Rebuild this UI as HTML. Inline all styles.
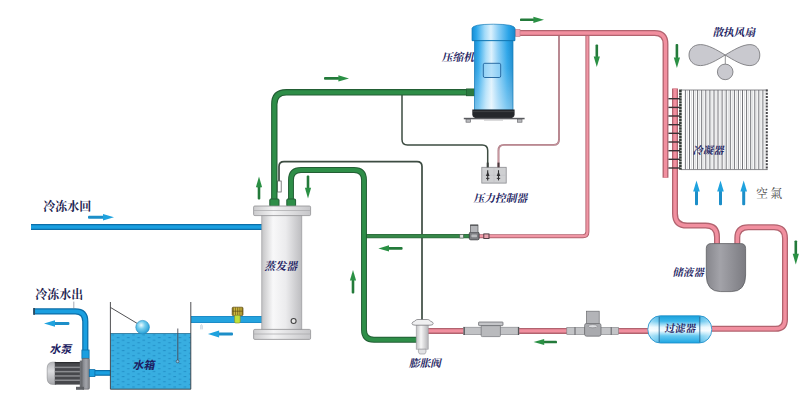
<!DOCTYPE html>
<html><head><meta charset="utf-8"><title>Chiller refrigeration diagram</title>
<style>html,body{margin:0;padding:0;overflow:hidden;background:#fff;font-family:"Liberation Sans",sans-serif}svg{display:block}</style>
</head><body>
<svg width="809" height="407" viewBox="0 0 809 407">
<defs>
<linearGradient id="gComp" x1="0" x2="1" y1="0" y2="0">
 <stop offset="0" stop-color="#178cd2"/><stop offset="0.1" stop-color="#2aa6ea"/>
 <stop offset="0.3" stop-color="#a4dbf9"/><stop offset="0.44" stop-color="#dcf1fd"/>
 <stop offset="0.6" stop-color="#8fd0f6"/><stop offset="0.85" stop-color="#2aa4e8"/><stop offset="1" stop-color="#1788cc"/>
</linearGradient>
<linearGradient id="gCompV" x1="0" x2="0" y1="0" y2="1">
 <stop offset="0" stop-color="#fff" stop-opacity="0"/><stop offset="0.4" stop-color="#fff" stop-opacity="0.08"/><stop offset="1" stop-color="#fff" stop-opacity="0.4"/>
</linearGradient>
<linearGradient id="gEvap" x1="0" x2="1" y1="0" y2="0">
 <stop offset="0" stop-color="#c4c4c6"/><stop offset="0.28" stop-color="#f8f8f9"/>
 <stop offset="0.6" stop-color="#ebebed"/><stop offset="1" stop-color="#bcbcbf"/>
</linearGradient>
<linearGradient id="gFlange" x1="0" x2="1" y1="0" y2="0">
 <stop offset="0" stop-color="#cbcbcd"/><stop offset="0.35" stop-color="#f3f3f4"/>
 <stop offset="1" stop-color="#c6c6c9"/>
</linearGradient>
<linearGradient id="gRecv" x1="0" x2="1" y1="0" y2="0">
 <stop offset="0" stop-color="#86868c"/><stop offset="0.35" stop-color="#a3a3a9"/>
 <stop offset="1" stop-color="#7b7b81"/>
</linearGradient>
<linearGradient id="gFilt" x1="0" x2="0" y1="0" y2="1">
 <stop offset="0" stop-color="#1aa2dc"/><stop offset="0.2" stop-color="#3ab6ea"/><stop offset="0.42" stop-color="#e2f6fe"/>
 <stop offset="0.55" stop-color="#f2fbff"/><stop offset="0.74" stop-color="#62c8f1"/><stop offset="1" stop-color="#1ea6e2"/>
</linearGradient>
<linearGradient id="gFiltH" x1="0" x2="1" y1="0" y2="0">
 <stop offset="0" stop-color="#fff" stop-opacity="0.55"/><stop offset="0.17" stop-color="#fff" stop-opacity="0.25"/><stop offset="0.2" stop-color="#fff" stop-opacity="0"/>
 <stop offset="0.8" stop-color="#fff" stop-opacity="0"/><stop offset="0.83" stop-color="#fff" stop-opacity="0.25"/><stop offset="1" stop-color="#fff" stop-opacity="0.55"/>
</linearGradient>
<linearGradient id="gValve" x1="0" x2="1" y1="0" y2="0">
 <stop offset="0" stop-color="#bfbfc1"/><stop offset="0.4" stop-color="#f7f7f7"/>
 <stop offset="1" stop-color="#b5b5b8"/>
</linearGradient>
<radialGradient id="gBall" cx="0.4" cy="0.35" r="0.7">
 <stop offset="0" stop-color="#eefcff"/><stop offset="0.4" stop-color="#74cdee"/><stop offset="1" stop-color="#1c98d2"/>
</radialGradient>
<pattern id="pWater" x="110.4" y="333.6" width="10.3" height="5.2" patternUnits="userSpaceOnUse">
 <rect width="10.3" height="5.2" fill="#38aee1"/>
 <rect x="1.2" y="0.9" width="2.6" height="1" fill="#2390c8"/>
 <rect x="6.35" y="3.5" width="2.6" height="1" fill="#2390c8"/>
</pattern>
<pattern id="pFins" x="681.6" width="4.08" height="10" patternUnits="userSpaceOnUse">
 <rect width="4.08" height="10" fill="#fbfbfb"/>
 <rect x="0" width="1.0" height="10" fill="#77787b"/>
 <rect x="2.0" width="0.9" height="10" fill="#c4c5c7"/>
</pattern>
</defs>
<rect width="809" height="407" fill="#fff"/>
<path d="M402 95 V139.4 Q402 144.9 407.5 144.9 H482.2 Q487.7 144.9 487.7 150.4 V167" fill="none" stroke="#3d4c42" stroke-width="1.5" stroke-linejoin="round"/>
<path d="M422 320 V166.6 Q422 161.6 417 161.6 H284 Q279 161.6 279 166.6 V182" fill="none" stroke="#3d4c42" stroke-width="1.7" stroke-linejoin="round"/>
<rect x="277.6" y="181" width="3.6" height="11" fill="#fff" stroke="#666" stroke-width="0.8"/>
<path d="M559 36 V139.4 Q559 144.9 553.5 144.9 H504 Q498.5 144.9 498.5 150.4 V167" fill="none" stroke="#a6727c" stroke-width="1.9" stroke-linejoin="round"/>
<path d="M559 36 V139.4 Q559 144.9 553.5 144.9 H504 Q498.5 144.9 498.5 150.4 V167" fill="none" stroke="#e8bcc2" stroke-width="0.5" stroke-linejoin="round"/>
<path d="M364 236.1 H470" fill="none" stroke="#2f6a3c" stroke-width="4.2" stroke-linecap="butt" stroke-linejoin="round"/>
<path d="M364 236.1 H470" fill="none" stroke="#37884a" stroke-width="2.6" stroke-linecap="butt" stroke-linejoin="round"/>
<path d="M291 207 V180 Q291 170 301 170 H354 Q364 170 364 180 V329.7 Q364 339.7 374 339.7 H417" fill="none" stroke="#225e34" stroke-width="5.9" stroke-linecap="butt" stroke-linejoin="round"/>
<path d="M291 207 V180 Q291 170 301 170 H354 Q364 170 364 180 V329.7 Q364 339.7 374 339.7 H417" fill="none" stroke="#2e8e48" stroke-width="3.9000000000000004" stroke-linecap="butt" stroke-linejoin="round"/>
<path d="M274.3 207 V104.3 Q274.3 92.3 286.3 92.3 H476" fill="none" stroke="#225e34" stroke-width="6.4" stroke-linecap="butt" stroke-linejoin="round"/>
<path d="M274.3 207 V104.3 Q274.3 92.3 286.3 92.3 H476" fill="none" stroke="#2e8e48" stroke-width="4.2" stroke-linecap="butt" stroke-linejoin="round"/>
<rect x="269.8" y="199" width="9.2" height="7.5" rx="1" fill="#2e8e48" stroke="#225e34" stroke-width="1"/>
<rect x="286.8" y="199" width="8.8" height="7.5" rx="1" fill="#2e8e48" stroke="#225e34" stroke-width="1"/>
<rect x="466.4" y="88.9" width="8.4" height="6.9" fill="#2b7a40" stroke="#1f5c30" stroke-width="0.7"/>
<path d="M587.4 35 V231.8 Q587.4 236.2 583 236.2 H478" fill="none" stroke="#b2636f" stroke-width="4.0" stroke-linecap="butt" stroke-linejoin="round"/>
<path d="M587.4 35 V231.8 Q587.4 236.2 583 236.2 H478" fill="none" stroke="#f096a5" stroke-width="2.2" stroke-linecap="butt" stroke-linejoin="round"/>
<path d="M515 33.0 H654.6 Q665.5 33.0 665.5 44.0 V177.8" fill="none" stroke="#b2636f" stroke-width="5.9" stroke-linecap="butt" stroke-linejoin="round"/>
<path d="M515 33.0 H654.6 Q665.5 33.0 665.5 44.0 V177.8" fill="none" stroke="#f18f9f" stroke-width="3.3000000000000003" stroke-linecap="butt" stroke-linejoin="round"/>
<path d="M675 88.4 V213.4 Q675 225.6 687.2 225.6 H705.6 Q717 225.6 717 237 V245" fill="none" stroke="#b2636f" stroke-width="6.0" stroke-linecap="butt" stroke-linejoin="round"/>
<path d="M675 88.4 V213.4 Q675 225.6 687.2 225.6 H705.6 Q717 225.6 717 237 V245" fill="none" stroke="#f18f9f" stroke-width="3.4" stroke-linecap="butt" stroke-linejoin="round"/>
<path d="M737.3 245 V238 Q737.3 227.2 748.3 227.2 H774 Q785 227.2 785 238.2 V319.2 Q785 328.8 775.4 328.8 H710" fill="none" stroke="#b2636f" stroke-width="6.0" stroke-linecap="butt" stroke-linejoin="round"/>
<path d="M737.3 245 V238 Q737.3 227.2 748.3 227.2 H774 Q785 227.2 785 238.2 V319.2 Q785 328.8 775.4 328.8 H710" fill="none" stroke="#f18f9f" stroke-width="3.4" stroke-linecap="butt" stroke-linejoin="round"/>
<path d="M650 330.9 H428" fill="none" stroke="#b2636f" stroke-width="6.0" stroke-linecap="butt" stroke-linejoin="round"/>
<path d="M650 330.9 H428" fill="none" stroke="#f18f9f" stroke-width="3.4" stroke-linecap="butt" stroke-linejoin="round"/>
<rect x="515.2" y="29.4" width="4.8" height="7.0" fill="#f3a3b0" stroke="#c98590" stroke-width="0.7"/>
<path d="M31 227 H263" fill="none" stroke="#0c6ea8" stroke-width="6.2" stroke-linecap="butt" stroke-linejoin="round"/>
<path d="M31 227 H263" fill="none" stroke="#1a9fe0" stroke-width="3.6" stroke-linecap="butt" stroke-linejoin="round"/>
<path d="M263 319.4 H191" fill="none" stroke="#1c8cc8" stroke-width="7.0" stroke-linecap="butt" stroke-linejoin="round"/>
<path d="M263 319.4 H191" fill="none" stroke="#24a3de" stroke-width="5.0" stroke-linecap="butt" stroke-linejoin="round"/>
<path d="M111 372.9 H89" fill="none" stroke="#0c6ea8" stroke-width="5.8" stroke-linecap="butt" stroke-linejoin="round"/>
<path d="M111 372.9 H89" fill="none" stroke="#1a9fe0" stroke-width="3.4" stroke-linecap="butt" stroke-linejoin="round"/>
<path d="M85.3 358 V321.4 Q85.3 311.3 75.3 311.3 H33.5" fill="none" stroke="#0c6ea8" stroke-width="6.2" stroke-linecap="butt" stroke-linejoin="round"/>
<path d="M85.3 358 V321.4 Q85.3 311.3 75.3 311.3 H33.5" fill="none" stroke="#1a9fe0" stroke-width="3.8000000000000003" stroke-linecap="butt" stroke-linejoin="round"/>
<path d="M73.8 301.6 V308.4" stroke="#6a6f80" stroke-width="0.6"/>
<rect x="81.9" y="350" width="7.2" height="8.5" fill="#1a9fe0" stroke="#0c6ea8" stroke-width="0.8"/>
<rect x="33.2" y="308" width="1.8" height="6.8" fill="#2c4a60"/>
<g id="evaporator">
<rect x="261.8" y="214" width="40" height="117" fill="url(#gEvap)" stroke="#9a9a9d" stroke-width="0.7"/>
<rect x="253.6" y="206" width="57" height="9.6" rx="1.2" fill="url(#gFlange)" stroke="#909093" stroke-width="0.8"/>
<path d="M254 210.5 H310.3" stroke="#a8a8ab" stroke-width="0.7"/>
<rect x="253.6" y="329.4" width="57" height="10" rx="1.2" fill="url(#gFlange)" stroke="#909093" stroke-width="0.8"/>
<path d="M254 334 H310.3" stroke="#a8a8ab" stroke-width="0.7"/>
<circle cx="293.6" cy="321" r="2.5" fill="#e8e8e8" stroke="#444" stroke-width="1.1"/>
</g>
<g id="compressor">
<rect x="474.4" y="38" width="38.6" height="72" fill="url(#gComp)" stroke="#167bb8" stroke-width="0.7"/>
<rect x="474.8" y="41" width="37.8" height="68.6" fill="url(#gCompV)"/>
<path d="M472 40.6 V28.5 Q472 24.2 493.5 24.2 Q515 24.2 515 28.5 V40.6 Z" fill="url(#gComp)" stroke="#167bb8" stroke-width="0.7"/>
<path d="M472 40.6 H515" stroke="#1276b2" stroke-width="0.8"/>
<rect x="483.3" y="63.3" width="17.4" height="14.2" rx="1.5" fill="#8fd0f5" fill-opacity="0.55" stroke="#1c5f9a" stroke-width="0.9"/>
<path d="M472.3 109.4 H514.6 V114.5 Q514.6 118.6 508 118.6 H479 Q472.3 118.6 472.3 114.5 Z" fill="#25272b"/>
<path d="M473 111.6 H514" stroke="#4a4c50" stroke-width="0.7"/>
<rect x="463.8" y="117.8" width="60.8" height="1.5" fill="#5a5b5f"/>
<rect x="466" y="119.2" width="4.6" height="3" fill="#b9babd" stroke="#5e5f63" stroke-width="0.6"/>
<rect x="517.4" y="119.2" width="4.6" height="3" fill="#b9babd" stroke="#5e5f63" stroke-width="0.6"/>
<rect x="484" y="119.4" width="19" height="1.2" fill="#c4c4c6"/>
</g>
<g id="condenser">
<rect x="681" y="89.8" width="86.6" height="79.8" fill="#fdfdfd"/>
<path d="M687.4 90V169.4M691.5 90V169.4M695.6 90V169.4M699.7 90V169.4M703.8 90V169.4M707.9 90V169.4M711.9 90V169.4M716.0 90V169.4M720.1 90V169.4M724.2 90V169.4M728.3 90V169.4M732.3 90V169.4M736.4 90V169.4M740.5 90V169.4M744.6 90V169.4M748.7 90V169.4M752.7 90V169.4M756.8 90V169.4M760.9 90V169.4M765.0 90V169.4" stroke="#d2d3d6" stroke-width="0.8" fill="none"/>
<path d="M685.4 90V169.4M689.5 90V169.4M693.6 90V169.4M697.6 90V169.4M701.7 90V169.4M705.8 90V169.4M709.9 90V169.4M714.0 90V169.4M718.0 90V169.4M722.1 90V169.4M726.2 90V169.4M730.3 90V169.4M734.4 90V169.4M738.4 90V169.4M742.5 90V169.4M746.6 90V169.4M750.7 90V169.4M754.8 90V169.4M758.8 90V169.4M762.9 90V169.4" stroke="#727378" stroke-width="1.0" fill="none"/>
<path d="M681 90 H767.6 M681 169.6 H767.6" stroke="#6a6a6e" stroke-width="0.8"/>
<path d="M680.4 89.6 V169.8" stroke="#333b36" stroke-width="2.6" stroke-dasharray="2.4 0.5"/>
<path d="M766.8 89.6 V169.8" stroke="#47474a" stroke-width="2" stroke-dasharray="2.0 1.2"/>
<path d="M668.4 98.7 H680" stroke="#3b3034" stroke-width="1.4"/>
<path d="M668.4 107.4 H680" stroke="#3b3034" stroke-width="1.4"/>
<path d="M668.4 116.0 H680" stroke="#3b3034" stroke-width="1.4"/>
<path d="M668.4 124.7 H680" stroke="#3b3034" stroke-width="1.4"/>
<path d="M668.4 133.3 H680" stroke="#3b3034" stroke-width="1.4"/>
<path d="M668.4 142.0 H680" stroke="#3b3034" stroke-width="1.4"/>
<path d="M668.4 150.7 H680" stroke="#3b3034" stroke-width="1.4"/>
<path d="M668.4 159.3 H680" stroke="#3b3034" stroke-width="1.4"/>
<path d="M668.4 168.0 H680" stroke="#3b3034" stroke-width="1.4"/>
</g>
<g id="fan" fill="#c9c9cf" stroke="#707074" stroke-width="0.8">
<path d="M725.2 55 C717 50 708 44.6 700.5 44.6 C693 44.6 689 49.5 689 55 C689 60.6 693 65.6 700.5 65.6 C708 65.6 717 60 725.2 55 Z"/>
<path d="M725.2 55 C733.4 50 742.4 44.6 749.9 44.6 C756.4 44.6 759.8 49.5 759.8 55 C759.8 60.6 756.4 65.6 749.9 65.6 C742.4 65.6 733.4 60 725.2 55 Z"/>
<path d="M725.3 55 V64.2" fill="none" stroke="#77777b" stroke-width="0.8"/>
<circle cx="725.2" cy="71.9" r="7.8"/>
</g>
<g id="receiver">
<path d="M706.3 248.4 Q706.3 243.6 711.3 243.6 H740.6 Q745.6 243.6 745.6 248.4 V275 Q745.6 291.6 731.2 291.6 H720.7 Q706.3 291.6 706.3 275 Z" fill="url(#gRecv)" stroke="#5d5e62" stroke-width="0.8"/>
</g>
<g id="filter">
<rect x="647.8" y="315.8" width="64" height="27.2" rx="12.5" ry="13.6" fill="url(#gFilt)"/>
<rect x="647.8" y="315.8" width="64" height="27.2" rx="12.5" ry="13.6" fill="url(#gFiltH)" stroke="#1a8cc8" stroke-width="0.8"/>
<path d="M659.2 316.6 V342.4 M699.8 316.6 V342.4" stroke="#1f5a86" stroke-width="0.8"/>
</g>
<g id="txv">
<rect x="416.2" y="324" width="12" height="25.2" fill="url(#gValve)" stroke="#9a9a9e" stroke-width="0.6"/>
<path d="M418.4 349.2 H426 V352 L424.8 354 H419.6 L418.4 352 Z" fill="#e2e2e4" stroke="#8c8c90" stroke-width="0.6"/>
<path d="M412 323.6 Q412 322 414.6 321.2 L416 320 Q416.6 319.5 418 319.5 H427.2 Q428.6 319.5 429.2 320 L430.6 321.2 Q433.2 322 433.2 323.6 Q433.2 325.2 430 325.2 H415.2 Q412 325.2 412 323.6 Z" fill="#f0f0f1" stroke="#6c6c70" stroke-width="0.7"/>
</g>
<g id="sight">
<rect x="463.6" y="327.2" width="55.4" height="7.5" fill="#c1c2c5" stroke="#808185" stroke-width="0.6"/>
<path d="M464.3 327 V335 M518.4 327 V335" stroke="#4c4d50" stroke-width="1"/>
<rect x="481.2" y="325" width="19.2" height="11.6" rx="1" fill="#b9babd" stroke="#707175" stroke-width="0.7"/>
<rect x="478.6" y="322" width="24.4" height="3.6" rx="0.6" fill="#c4c5c8" stroke="#5f6064" stroke-width="0.7"/>
</g>
<g id="solenoid">
<rect x="566.8" y="327.4" width="18" height="7.2" fill="#c3c4c7" stroke="#808185" stroke-width="0.6"/>
<rect x="600.4" y="327.4" width="18" height="7.2" fill="#c3c4c7" stroke="#808185" stroke-width="0.6"/>
<path d="M575 327.2 V334.8 M611.2 327.2 V334.8" stroke="#55565a" stroke-width="0.9"/>
<rect x="584.6" y="323.4" width="16.4" height="12.8" rx="2" fill="#a9aaae" stroke="#66676b" stroke-width="0.7"/>
<rect x="586.4" y="311.2" width="12.8" height="12.4" fill="#b3b4b8" stroke="#6c6d71" stroke-width="0.7"/>
<ellipse cx="592.8" cy="326.2" rx="4.6" ry="1.6" fill="#dcdde0" stroke="#66676b" stroke-width="0.5"/>
</g>
<g id="smallvalve">
<rect x="459.8" y="234.4" width="3.6" height="3.6" fill="#e4e4e4" stroke="#4c5a50" stroke-width="0.6"/>
<rect x="483.8" y="233.9" width="5.2" height="4.6" fill="#e9a3ae" stroke="#43333a" stroke-width="0.9"/>
<rect x="469.3" y="232.2" width="9.8" height="7.6" rx="1.4" fill="#7d7e82" stroke="#37383b" stroke-width="0.8"/>
<rect x="471.4" y="234.6" width="5.6" height="2.6" rx="0.8" fill="#b9babd"/>
<rect x="470.4" y="225" width="7.6" height="7.6" fill="#b4b5b9" stroke="#55565a" stroke-width="0.7"/>
<path d="M470.4 225.2 H478" stroke="#3c3d40" stroke-width="0.9"/>
</g>
<g id="pctrl">
<rect x="481.8" y="167.3" width="24.4" height="15.8" fill="#cfd0d2" stroke="#8a8b8f" stroke-width="0.8"/>
<path d="M482 175.2 H506 M494 167.5 V183" stroke="#bcbdc0" stroke-width="0.5"/>
<rect x="486.7" y="162.6" width="2" height="4.8" fill="#3a3f3c"/><rect x="497.5" y="162.6" width="2" height="4.8" fill="#4a3a3e"/>
<path d="M487.7 170.2 V180.4" stroke="#2e2e30" stroke-width="1.1"/>
<path d="M485.9 176 L487.7 171.4 L489.5 176 Z" fill="#2e2e30"/>
<path d="M486.0 178.4 H489.4" stroke="#2e2e30" stroke-width="0.9"/>
<path d="M498.5 170.2 V180.4" stroke="#2e2e30" stroke-width="1.1"/>
<path d="M496.7 176 L498.5 171.4 L500.3 176 Z" fill="#2e2e30"/>
<path d="M496.8 178.4 H500.2" stroke="#2e2e30" stroke-width="0.9"/>
</g>
<g id="tank">
<rect x="110.4" y="333.4" width="80.4" height="55.8" fill="url(#pWater)"/><path d="M110.4 333.5 H190.8" stroke="#2a7296" stroke-width="0.8"/>
<path d="M110.4 302 V389.2 H190.8 V302" fill="none" stroke="#3c3c40" stroke-width="0.9"/>
<path d="M110.6 307.5 L137.5 323.6" stroke="#3c3c40" stroke-width="0.9"/>
<circle cx="142.6" cy="327.2" r="6.8" fill="url(#gBall)" stroke="#1f8cc2" stroke-width="0.6"/>
<path d="M177.8 328.5 V360.5" stroke="#4a4a55" stroke-width="0.9"/>
<circle cx="177.6" cy="361.4" r="1.4" fill="#8ecbee" stroke="#4a4a55" stroke-width="0.7"/>
</g>
<g id="pump">
<defs><linearGradient id="gCap" x1="0" x2="0" y1="0" y2="1"><stop offset="0" stop-color="#b4b5b9"/><stop offset="0.4" stop-color="#dcdde0"/><stop offset="1" stop-color="#a6a7ab"/></linearGradient><linearGradient id="gHouse" x1="0" x2="1" y1="0" y2="0"><stop offset="0" stop-color="#7b7d83"/><stop offset="0.55" stop-color="#a2a4aa"/><stop offset="1" stop-color="#7f8187"/></linearGradient></defs>
<path d="M56 362.2 H52.6 Q47.2 362.2 47.2 368.4 V378 Q47.2 384.4 52.6 384.4 H56 Z" fill="url(#gCap)" stroke="#8a8b8f" stroke-width="0.6"/>
<rect x="54.8" y="362" width="25.4" height="22.6" fill="#47484c"/>
<rect x="54.8" y="366.6" width="25.4" height="1.5" fill="#8b8c90"/>
<rect x="54.8" y="370.9" width="25.4" height="1.5" fill="#8b8c90"/>
<rect x="54.8" y="375.2" width="25.4" height="1.5" fill="#8b8c90"/>
<rect x="54.8" y="379.5" width="25.4" height="1.5" fill="#8b8c90"/>
<rect x="54.8" y="362" width="25.4" height="1.2" fill="#2c2d30"/>
<rect x="79.8" y="360.6" width="3.4" height="26.6" fill="#6f7176"/>
<rect x="82" y="358.4" width="7.4" height="30.8" rx="1.2" fill="url(#gHouse)" stroke="#5c5e63" stroke-width="0.6"/>
<rect x="76" y="386.8" width="8" height="3" fill="#5f6166"/>
<rect x="89.3" y="369.6" width="5.6" height="7" fill="#1a9fe0" stroke="#0c6ea8" stroke-width="0.8"/>
</g>
<g id="brass">
<rect x="232.2" y="307.2" width="10.8" height="8.4" rx="1" fill="#8e7a22" stroke="#5c4a12" stroke-width="0.7"/>
<path d="M234.4 307.6 V315.2 M236.6 307.6 V315.2 M238.8 307.6 V315.2 M241 307.6 V315.2" stroke="#dcc648" stroke-width="0.9"/>
<path d="M232.4 311.2 H242.8" stroke="#5c4a12" stroke-width="0.7"/>
<rect x="234.6" y="315.2" width="5.6" height="7.8" rx="1.2" fill="#bfe23a" stroke="#8a8a24" stroke-width="0.6"/>
<path d="M200.8 329.4 V325.2 Q201.4 324.2 202.2 325.4 V329.4" fill="none" stroke="#9fb4c4" stroke-width="0.6"/>
</g>
<g id="arrows">
<g transform="translate(324 78.4) rotate(0.00)"><rect x="0" y="-1.30" width="15.20" height="2.6" rx="0.91" fill="#237a3a"/><path d="M14.40 -3.10 L25.00 0 L14.40 3.10Z" fill="#2a9044"/></g>
<g transform="translate(520 19.8) rotate(0.00)"><rect x="0" y="-1.30" width="14.20" height="2.6" rx="0.91" fill="#237a3a"/><path d="M13.40 -3.10 L24.00 0 L13.40 3.10Z" fill="#2a9044"/></g>
<g transform="translate(596.8 44.5) rotate(90.00)"><rect x="0" y="-1.30" width="12.70" height="2.6" rx="0.91" fill="#237a3a"/><path d="M11.90 -3.10 L22.50 0 L11.90 3.10Z" fill="#2a9044"/></g>
<g transform="translate(676.9 44) rotate(90.00)"><rect x="0" y="-1.30" width="14.20" height="2.6" rx="0.91" fill="#237a3a"/><path d="M13.40 -3.10 L24.00 0 L13.40 3.10Z" fill="#2a9044"/></g>
<g transform="translate(795.8 240.4) rotate(90.00)"><rect x="0" y="-1.30" width="14.20" height="2.6" rx="0.91" fill="#237a3a"/><path d="M13.40 -3.10 L24.00 0 L13.40 3.10Z" fill="#2a9044"/></g>
<g transform="translate(557 342) rotate(180.00)"><rect x="0" y="-1.30" width="13.60" height="2.6" rx="0.91" fill="#237a3a"/><path d="M12.80 -3.10 L23.40 0 L12.80 3.10Z" fill="#2a9044"/></g>
<g transform="translate(402.6 248.4) rotate(180.00)"><rect x="0" y="-1.30" width="14.40" height="2.6" rx="0.91" fill="#237a3a"/><path d="M13.60 -3.10 L24.20 0 L13.60 3.10Z" fill="#2a9044"/></g>
<g transform="translate(353 293.5) rotate(-90.00)"><rect x="0" y="-1.30" width="13.70" height="2.6" rx="0.91" fill="#237a3a"/><path d="M12.90 -3.10 L23.50 0 L12.90 3.10Z" fill="#2a9044"/></g>
<g transform="translate(259 199.5) rotate(-90.00)"><rect x="0" y="-1.30" width="13.10" height="2.6" rx="0.91" fill="#237a3a"/><path d="M12.30 -3.10 L22.90 0 L12.30 3.10Z" fill="#2a9044"/></g>
<g transform="translate(308 175.6) rotate(90.00)"><rect x="0" y="-1.30" width="13.00" height="2.6" rx="0.91" fill="#237a3a"/><path d="M12.20 -3.10 L22.80 0 L12.20 3.10Z" fill="#2a9044"/></g>
<g transform="translate(88 217.2) rotate(0.00)"><rect x="0" y="-1.50" width="15.80" height="3.0" rx="1.05" fill="#1c8ec8"/><path d="M15.00 -3.25 L26.00 0 L15.00 3.25Z" fill="#1fa2de"/></g>
<g transform="translate(69.4 323.5) rotate(180.00)"><rect x="0" y="-1.50" width="15.20" height="3.0" rx="1.05" fill="#1c8ec8"/><path d="M14.40 -3.25 L25.40 0 L14.40 3.25Z" fill="#1fa2de"/></g>
<g transform="translate(233 334.1) rotate(180.00)"><rect x="0" y="-1.50" width="14.70" height="3.0" rx="1.05" fill="#1c8ec8"/><path d="M13.90 -3.50 L25.10 0 L13.90 3.50Z" fill="#1fa2de"/></g>
<g transform="translate(696.5 205.3) rotate(-90.00)"><rect x="0" y="-1.50" width="14.70" height="3.0" rx="1.05" fill="#1c8ec8"/><path d="M13.90 -3.30 L24.70 0 L13.90 3.30Z" fill="#1fa2de"/></g>
<g transform="translate(720.5 205.3) rotate(-90.00)"><rect x="0" y="-1.50" width="14.70" height="3.0" rx="1.05" fill="#1c8ec8"/><path d="M13.90 -3.30 L24.70 0 L13.90 3.30Z" fill="#1fa2de"/></g>
<g transform="translate(743.7 205.3) rotate(-90.00)"><rect x="0" y="-1.50" width="14.70" height="3.0" rx="1.05" fill="#1c8ec8"/><path d="M13.90 -3.30 L24.70 0 L13.90 3.30Z" fill="#1fa2de"/></g>
</g>
<g id="labels">
<g font-family="&quot;Liberation Serif&quot;, &quot;Noto Serif CJK SC&quot;, serif" font-weight="bold" fill="#1d1d62">
<text transform="translate(441.8 60.6) skewX(-12.4)" font-size="10.8">压缩机</text>
<text transform="translate(473.4 202) skewX(-12.4)" font-size="10.8">压力控制器</text>
<text transform="translate(264.3 270.3) skewX(-12.4)" font-size="11">蒸发器</text>
<text transform="translate(408.95 366.5) skewX(-12.4)" font-size="10.7">膨胀阀</text>
<text transform="translate(664.4 331.5) skewX(-8)" font-size="10.4">过滤器</text>
<text transform="translate(672.6 275.6) skewX(-12.4)" font-size="10.4">储液器</text>
<text transform="translate(692.4 154.1) skewX(-12.4)" font-size="10.4">冷凝器</text>
<text transform="translate(712.4 35.5) skewX(-12.4)" font-size="10.7">散执风扇</text>
</g>
<g font-family="&quot;Liberation Sans&quot;, &quot;Noto Sans CJK SC&quot;, sans-serif" font-weight="bold" fill="#1d1d62">
<text transform="translate(49.6 352.8) skewX(-12.4)" font-size="11">水泵</text>
<text transform="translate(132.6 369.4) skewX(-12.4)" font-size="11">水箱</text>
</g>
<g font-family="&quot;Liberation Serif&quot;, &quot;Noto Serif CJK SC&quot;, serif" font-weight="bold" fill="#1b1c4e">
<text x="43.27" y="211.4" font-size="12">冷冻水回</text>
<text x="35.17" y="299.3" font-size="12">冷冻水出</text>
</g>
<text x="755.9" y="197.8" font-size="12" letter-spacing="2.4" fill="#4a4a4a" font-family="&quot;Liberation Serif&quot;, &quot;Noto Serif CJK TC&quot;, &quot;Noto Serif CJK SC&quot;, serif">空氣</text>
</g>
</svg>
</body></html>
